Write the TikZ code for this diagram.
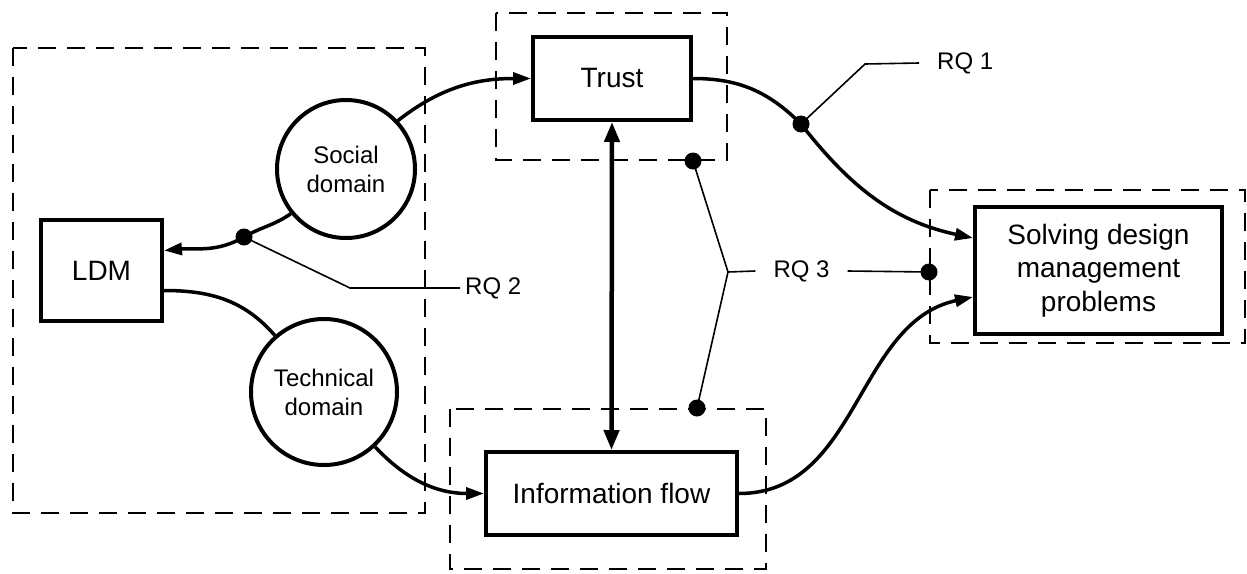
\documentclass[tikz,border=0pt]{standalone}
\usepackage{fontspec}
\setmainfont{Liberation Sans}
\usetikzlibrary{arrows.meta}
\begin{document}
\begin{tikzpicture}[x=1pt,y=-1pt,
  box/.style={draw,line width=4pt,rectangle,inner sep=0pt,align=center,font=\fontsize{28}{33.5}\selectfont},
  dom/.style={draw,line width=4pt,circle,inner sep=0pt,align=center,font=\fontsize{24}{29}\selectfont},
  grp/.style={line width=2pt,dash pattern=on 18pt off 11pt},
  flow/.style={line width=3.5pt,-{Triangle[length=18pt,width=12pt]}},
  link/.style={line width=3.5pt},
  lead/.style={line width=1.6pt},
  dotnode/.style={circle,fill=black,inner sep=0pt,minimum size=17pt},
  rq/.style={inner ysep=0pt,font=\fontsize{24}{28}\selectfont}]
\useasboundingbox (0,0) rectangle (1247,573);
% dashed groups
\draw[grp] (13,48) rectangle (425,513);
\draw[grp] (496,13) rectangle (727,160);
\draw[grp] (930,190) rectangle (1245,343);
\draw[grp] (450,409) rectangle (766,569);
% nodes
\node[box,minimum width=121pt,minimum height=101pt] (ldm) at (101.5,270.5) {LDM};
\node[dom,minimum size=138pt] (social) at (346,169) {Social\\domain};
\node[dom,minimum size=146pt] (tech) at (324,392) {Technical\\domain};
\node[box,minimum width=158pt,minimum height=83pt] (trust) at (612,78.5) {Trust};
\node[box,minimum width=251pt,minimum height=83pt] (info) at (611.5,493.5) {Information flow};
\node[box,minimum width=247pt,minimum height=127pt] (solve) at (1098.5,270.5) {Solving design\\management\\problems};
% dots
\node[dotnode] (rq1dot) at (801,124) {};
\node[dotnode] (rq2dot) at (244,237) {};
\node[dotnode] (rq3a) at (693,161) {};
\node[dotnode] (rq3b) at (697,408) {};
\node[dotnode] (rq3c) at (929,272) {};
% labels
\node[rq,anchor=west,inner xsep=18pt] (rq1) at (919,63) {RQ 1};
\node[rq,anchor=west,inner xsep=5pt] (rq2) at (460,288) {RQ 2};
\node[rq,inner xsep=18pt] (rq3) at (801.5,271) {RQ 3};
\coordinate (k1) at (865,64);
\coordinate (k2) at (350,288);
\coordinate (k3) at (728,272);
% connectors
\draw[flow] (social.43) to[out=38,in=180] (trust.west);
\draw[link] (social.219) to[out=215,in=30] (rq2dot.center);
\draw[flow] (rq2dot.center) to[out=210,in=5] ([yshift=20pt]ldm.east);
\draw[link] ([yshift=-20pt]ldm.east) to[out=0,in=131] (tech.131);
\draw[flow] (tech.-47) to[out=-47,in=180] (info.west);
\draw[line width=4.5pt,{Triangle[length=20pt,width=15pt]}-{Triangle[length=20pt,width=15pt]}] (trust.south) -- (info.north);
\draw[link] (trust.east) to[out=0,in=135] (rq1dot.center);
\draw[flow] (rq1dot.center) to[out=-52,in=168] ([yshift=32.5pt]solve.west);
\draw[flow] (info.east) to[out=0,in=192] ([yshift=-26.5pt]solve.west);
% leaders
\draw[lead] (rq1dot.center) -- (k1) -- (rq1.west);
\draw[lead] (rq2dot.center) -- (k2) -- (rq2.west);
\draw[lead] (rq3a.center) -- (k3) -- (rq3b.center);
\draw[lead] (k3) -- (rq3.west);
\draw[lead] (rq3.east) -- (rq3c.center);
\end{tikzpicture}
\end{document}
